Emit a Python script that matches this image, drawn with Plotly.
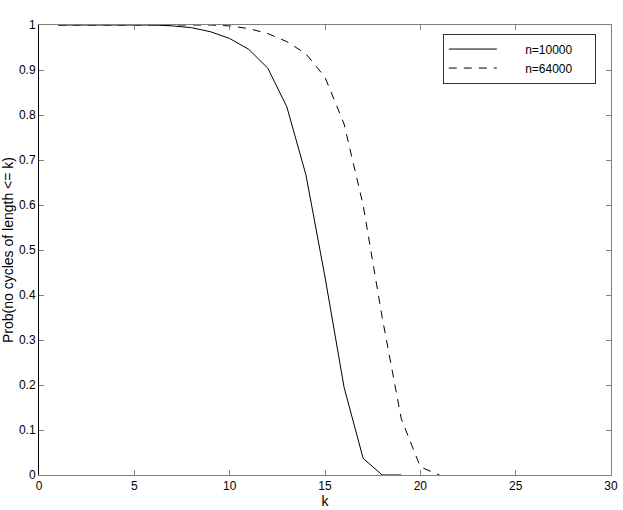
import plotly.graph_objects as go

# values
k_small = list(range(1, 20))
p_small = [1.0, 1.0, 1.0, 1.0, 1.0, 1.0, 0.998, 0.994, 0.985, 0.97,
           0.946, 0.904, 0.818, 0.667, 0.44, 0.195, 0.037, 0.0, 0.0]
k_large = list(range(1, 22))
p_large = [1.0, 1.0, 1.0, 1.0, 1.0, 1.0, 1.0, 1.0, 1.0, 0.998,
           0.992, 0.981, 0.963, 0.936, 0.884, 0.78, 0.6, 0.35, 0.125, 0.018, 0.0]
names = ["n=10000", "n=64000"]

font = dict(family="Liberation Sans, Arial, sans-serif", size=12, color="black")
grey = "#808080"
lead = "\u00a0" * 7
trail = "\u00a0" * 5

fig = go.Figure()
fig.add_trace(go.Scatter(x=k_small, y=p_small, mode="lines", name=lead + names[0] + trail,
                         line=dict(color="black", width=1)))
fig.add_trace(go.Scatter(x=k_large, y=p_large, mode="lines", name=lead + names[1] + trail,
                         line=dict(color="black", width=1, dash="8px,7px")))

fig.update_layout(
    width=623, height=510,
    margin=dict(l=39, r=12, t=25, b=35, pad=0),
    paper_bgcolor="white", plot_bgcolor="white",
    font=font, hovermode=False,
    legend=dict(x=0.706, y=0.981, xanchor="left", yanchor="top",
                bordercolor="#333333", borderwidth=1, bgcolor="white",
                itemwidth=48, tracegroupgap=0, font=font),
    xaxis=dict(range=[0, 30], dtick=5, showgrid=False, zeroline=False,
               showline=True, linecolor=grey, linewidth=1, mirror="ticks",
               ticks="inside", ticklen=5, tickcolor=grey, automargin=False,
               layer="above traces", title=dict(text="k", standoff=2)),
    yaxis=dict(range=[0, 1], dtick=0.1, showgrid=False, zeroline=False,
               showline=True, linecolor="black", linewidth=1, mirror=False,
               ticks="inside", ticklen=5, tickcolor=grey, automargin=False,
               layer="above traces",
               title=dict(text="Prob(no cycles of length <= k)", standoff=2)),
)
# right-hand frame edge with mirrored ticks
fig.update_layout(yaxis2=dict(overlaying="y", side="right", range=[0, 1], dtick=0.1,
                              showline=True, linecolor=grey, ticks="inside", ticklen=5,
                              tickcolor=grey, showticklabels=False, showgrid=False,
                              zeroline=False, automargin=False, layer="above traces"))
fig.add_trace(go.Scatter(x=[None], y=[None], yaxis="y2", showlegend=False))

# drop the default 8px body margin so the figure sits at the window's corner
fig.write_html("out.html", config={"displayModeBar": False},
               post_script="document.body.style.margin='0';")
